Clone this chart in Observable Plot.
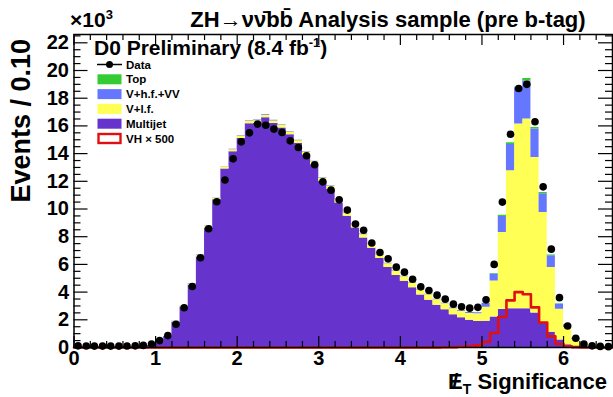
<!DOCTYPE html>
<html><head><meta charset="utf-8">
<script src="https://cdn.jsdelivr.net/npm/d3@7"></script>
<script src="https://cdn.jsdelivr.net/npm/@observablehq/plot@0.6"></script>
<style>
html,body{margin:0;padding:0;background:#fff;}
#chart{width:613px;height:397px;}
</style></head><body><div id="chart"></div>
<script>
// Bins: 0.0 .. 6.6 in steps of 0.1 (66 bins); values in units of 10^3 events
const binStart = 0, binWidth = 0.1, nBins = 66;

const dataCounts = [0.12,0.11,0.10,0.10,0.10,0.10,0.11,0.12,0.15,0.25,
0.50,0.86,1.68,2.87,4.40,6.48,8.57,10.52,12.09,13.62,
14.85,15.50,16.13,16.05,15.77,15.53,14.92,14.44,13.84,13.19,
11.96,11.36,10.66,9.92,8.91,8.47,7.54,6.86,6.40,5.80,
5.44,4.93,4.38,4.12,3.78,3.49,3.13,2.94,2.84,2.90,
3.44,6.00,10.50,15.40,18.70,19.00,16.30,11.60,7.10,3.60,
1.55,0.67,0.25,0.12,0.08,0.06];

const multijet = [0.03,0.03,0.03,0.03,0.03,0.03,0.03,0.04,0.06,0.14,
0.35,0.80,1.85,2.92,4.51,6.54,8.63,10.66,12.89,14.13,
15.09,16.16,16.20,16.58,16.17,15.85,15.36,14.73,13.90,13.20,
12.01,11.41,10.44,9.48,8.63,7.90,7.17,6.43,5.77,5.20,
4.78,4.31,3.79,3.42,3.05,2.73,2.36,2.14,1.97,1.88,
1.90,2.20,2.75,2.80,2.80,2.80,2.50,1.80,1.10,0.55,
0.20,0.06,0.02,0.01,0.01,0.00];

const vlf = [0.01,0.01,0.01,0.01,0.01,0.01,0.01,0.01,0.01,0.01,
0.02,0.03,0.05,0.06,0.08,0.10,0.12,0.13,0.14,0.15,
0.16,0.17,0.18,0.18,0.19,0.19,0.20,0.20,0.21,0.21,
0.22,0.22,0.23,0.23,0.24,0.25,0.26,0.27,0.28,0.30,
0.32,0.34,0.36,0.38,0.40,0.42,0.44,0.46,0.48,0.55,
1.00,2.60,5.55,9.96,13.33,13.70,11.22,7.95,4.68,2.22,
1.24,0.54,0.20,0.08,0.05,0.03];

const vhf = [0,0,0,0,0,0,0,0,0,0,
0,0,0.02,0.02,0.03,0.03,0.03,0.03,0.03,0.03,
0.04,0.04,0.04,0.04,0.04,0.04,0.04,0.04,0.04,0.04,
0.04,0.04,0.04,0.04,0.04,0.04,0.04,0.04,0.04,0.04,
0.04,0.04,0.04,0.04,0.04,0.05,0.05,0.06,0.07,0.08,
0.28,0.50,1.15,1.90,2.62,2.75,2.05,1.35,0.84,0.36,
0.20,0.06,0.02,0.01,0.01,0.00];

const topQ = [0,0,0,0,0,0,0,0,0,0,
0,0,0,0,0,0,0,0,0,0,
0,0,0,0,0,0,0,0,0,0,
0,0,0,0,0,0,0,0,0,0,
0,0,0,0,0,0,0,0,0,0,
0.02,0.05,0.10,0.12,0.05,0.18,0.12,0.10,0.05,0.02,
0.01,0,0,0,0,0];

const vh500 = [0,0,0,0,0,0,0,0,0,0,
0,0,0,0,0,0,0,0,0,0,
0,0,0,0,0,0,0,0,0,0,
0,0,0,0,0,0,0,0,0,0,
0,0,0,0,0.01,0.02,0.03,0.05,0.08,0.15,
0.40,1.05,2.20,3.40,4.00,3.85,2.90,1.80,0.80,0.25,
0.08,0.03,0.01,0,0,0];

const compNames = ["Multijet", "V+l.f.", "V+h.f.+VV", "Top"];
const compColors = ["#6633cc", "#ffff55", "#6677ff", "#33cc33"];
const compValues = [multijet, vlf, vhf, topQ];

const yMajor = [0,2,4,6,8,10,12,14,16,18,20,22];
const xMajor = [0,1,2,3,4,5,6];

// derived tables
const edges = d3.range(nBins + 1).map(i => +(binStart + i * binWidth).toFixed(2));
const centers = d3.range(nBins).map(i => +(binStart + (i + 0.5) * binWidth).toFixed(3));
const stackRows = compNames.flatMap((name, k) =>
  edges.map((x, i) => ({x, comp: name, v: compValues[k][Math.min(i, nBins - 1)]})));
const vhRows = edges.map((x, i) => ({x, v: i < nBins ? vh500[i] : 0}));
const dataRows = centers.map((x, i) => ({x, v: dataCounts[i]}));
const yMinor = d3.range(0, 22.6, 0.5).filter(v => v % 2 !== 0);
const xMinor = d3.range(0, 6.61, 0.2).map(v => +v.toFixed(2)).filter(v => Math.abs(v - Math.round(v)) > 1e-6);

const W = 613, H = 397, mL = 73.5, mR = 1, mT = 34, mB = 50;
const pw = W - mL - mR, ph = H - mT - mB;

const plot = Plot.plot({
  width: W, height: H,
  marginLeft: mL, marginRight: mR, marginTop: mT, marginBottom: mB,
  x: {domain: [0, 6.6]},
  y: {domain: [0, 22.6]},
  color: {domain: compNames, range: compColors},
  style: {fontFamily: "'Liberation Sans', Arial, sans-serif", fontWeight: "bold", fontSize: "20px", background: "white", color: "black", overflow: "visible"},
  marks: [
    Plot.areaY(stackRows, {x: "x", y: "v", fill: "comp", curve: "step-after"}),
    Plot.lineY(vhRows, {x: "x", y: "v", stroke: "#e01010", strokeWidth: 2.6, curve: "step-after"}),
    Plot.dot(dataRows, {x: "x", y: "v", r: 3.8, fill: "black"}),
    // inward ticks on all four sides
    Plot.gridY(yMajor, {stroke: "black", strokeOpacity: 1, strokeWidth: 1.2, insetRight: pw - 14}),
    Plot.gridY(yMinor, {stroke: "black", strokeOpacity: 1, strokeWidth: 1.2, insetRight: pw - 7}),
    Plot.gridY(yMajor, {stroke: "black", strokeOpacity: 1, strokeWidth: 1.2, insetLeft: pw - 14}),
    Plot.gridY(yMinor, {stroke: "black", strokeOpacity: 1, strokeWidth: 1.2, insetLeft: pw - 7}),
    Plot.gridX(xMajor, {stroke: "black", strokeOpacity: 1, strokeWidth: 1.2, insetTop: ph - 11}),
    Plot.gridX(xMinor, {stroke: "black", strokeOpacity: 1, strokeWidth: 1.2, insetTop: ph - 6}),
    Plot.gridX(xMajor, {stroke: "black", strokeOpacity: 1, strokeWidth: 1.2, insetBottom: ph - 11}),
    Plot.gridX(xMinor, {stroke: "black", strokeOpacity: 1, strokeWidth: 1.2, insetBottom: ph - 6}),
    Plot.frame({stroke: "black", strokeWidth: 1.5}),
    Plot.axisY({ticks: yMajor, tickSize: 0, tickPadding: 5, label: null, tickFormat: d => String(d), fontSize: 20, fontWeight: "bold"}),
    Plot.axisX({ticks: xMajor, tickSize: 0, tickPadding: 3, label: null, tickFormat: d => String(d), fontSize: 20, fontWeight: "bold"})
  ]
});

const host = document.getElementById("chart");
host.appendChild(plot);
const svg = d3.select(plot);
const FONT = "'Liberation Sans', Arial, sans-serif";

function txt(x, y, size, anchor) {
  return svg.append("text").attr("x", x).attr("y", y)
    .attr("font-family", FONT).attr("font-weight", "bold")
    .attr("font-size", size).attr("text-anchor", anchor || "start").attr("fill", "black");
}

// x10^3
const t1 = txt(70, 27, 21);
t1.append("tspan").text("×10");
t1.append("tspan").attr("dy", -8).attr("font-size", 13).text("3");

// main title
txt(388, 27, 22, "middle").text("ZH\u2192\u03bd\u03bd\u0304bb\u0304 Analysis sample (pre b-tag)");

// D0 Preliminary
const t2 = txt(94, 55, 21);
t2.append("tspan").text("D0 Preliminary (8.4 fb");
t2.append("tspan").attr("dy", -8).attr("font-size", 13).text("-1");
t2.append("tspan").attr("dy", 8).text(")");

// legend
const legendItems = [
  {label: "Data", kind: "data"},
  {label: "Top", kind: "box", color: compColors[3]},
  {label: "V+h.f.+VV", kind: "box", color: compColors[2]},
  {label: "V+l.f.", kind: "box", color: compColors[1]},
  {label: "Multijet", kind: "box", color: compColors[0]},
  {label: "VH \u00d7 500", kind: "line"}
];
legendItems.forEach((d, i) => {
  const cy = 64.5 + i * 14.8;
  if (d.kind === "data") {
    svg.append("line").attr("x1", 97).attr("x2", 122).attr("y1", cy).attr("y2", cy).attr("stroke", "black").attr("stroke-width", 1.5);
    svg.append("circle").attr("cx", 109.5).attr("cy", cy).attr("r", 3.5).attr("fill", "black");
  } else if (d.kind === "box") {
    svg.append("rect").attr("x", 97.5).attr("y", cy - 5).attr("width", 24).attr("height", 10).attr("fill", d.color);
  } else {
    svg.append("rect").attr("x", 98.5).attr("y", cy - 4.5).attr("width", 22).attr("height", 9).attr("fill", "white").attr("stroke", "#e01010").attr("stroke-width", 2.4);
  }
  txt(126, cy + 4, 11.5).text(d.label);
});

// y title
txt(0, 0, 27, "end").attr("transform", "translate(30,39) rotate(-90)").text("Events / 0.10");

// x title: E-slash (missing ET) with subscript T, one text element
const xt = txt(448, 389, 22);
xt.append("tspan").text("E");
xt.append("tspan").attr("dx", -10.4).text("/");
xt.append("tspan").attr("dx", 4.3).attr("dy", 5).attr("font-size", 14).text("T");
xt.append("tspan").attr("dy", -5).text(" Significance");
</script></body></html>
